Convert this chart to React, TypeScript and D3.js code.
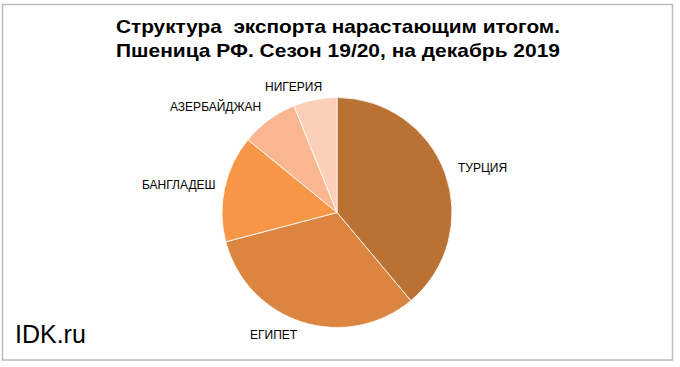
import React from "react";
import * as d3 from "d3";

const categories = ["ТУРЦИЯ", "ЕГИПЕТ", "БАНГЛАДЕШ", "АЗЕРБАЙДЖАН", "НИГЕРИЯ"];
const values = [38.9, 32.0, 15.0, 8.0, 6.1];
const colors = ["#BA7234", "#DC8540", "#F79646", "#F9B690", "#FBCFB8"];
const titleLines = [
  "Структура  экспорта нарастающим итогом.",
  "Пшеница РФ. Сезон 19/20, на декабрь 2019",
];
const watermark = "IDK.ru";

const W = 680;
const H = 367;
const cx = 337;
const cy = 212.5;
const R = 115;

// label anchor points (left x, baseline y)
const labelPos: [number, number][] = [
  [458, 172],
  [250, 339],
  [142, 189],
  [170, 111],
  [265, 91],
];

export default function App() {
  const data = categories.map((c, i) => ({ c, v: values[i], col: colors[i] }));
  const pie = d3
    .pie<any>()
    .value((d) => d.v)
    .sort(null);
  const arc = d3.arc<any>().innerRadius(0).outerRadius(R);
  const arcs = pie(data);
  return (
    <svg
      width={W}
      height={H}
      style={{ position: "absolute", left: 0, top: 0, background: "#fff" }}
      fontFamily="'Liberation Sans', Arial, sans-serif"
    >
      <rect x={0} y={0} width={W} height={H} fill="#fff" />
      <rect
        x={2.5}
        y={4.5}
        width={670}
        height={355.5}
        fill="#fff"
        stroke="#BBBBBB"
        strokeWidth={1.5}
      />
      {titleLines.map((t, i) => (
        <text
          key={i}
          x={116}
          y={33 + i * 24}
          textLength={444}
          lengthAdjust="spacingAndGlyphs"
          fontSize={18.5}
          fontWeight="bold"
          fill="#000"
          style={{ whiteSpace: "pre" }}
        >
          {t}
        </text>
      ))}
      <g transform={`translate(${cx},${cy})`}>
        {arcs.map((a, i) => (
          <path
            key={i}
            d={arc(a) as string}
            fill={a.data.col}
            stroke="#fff"
            strokeWidth={0.8}
          />
        ))}
      </g>
      {categories.map((c, i) => (
        <text key={c} x={labelPos[i][0]} y={labelPos[i][1]} fontSize={12} fill="#000">
          {c}
        </text>
      ))}
      <text x={15} y={343} fontSize={25} fill="#000">
        {watermark}
      </text>
    </svg>
  );
}
